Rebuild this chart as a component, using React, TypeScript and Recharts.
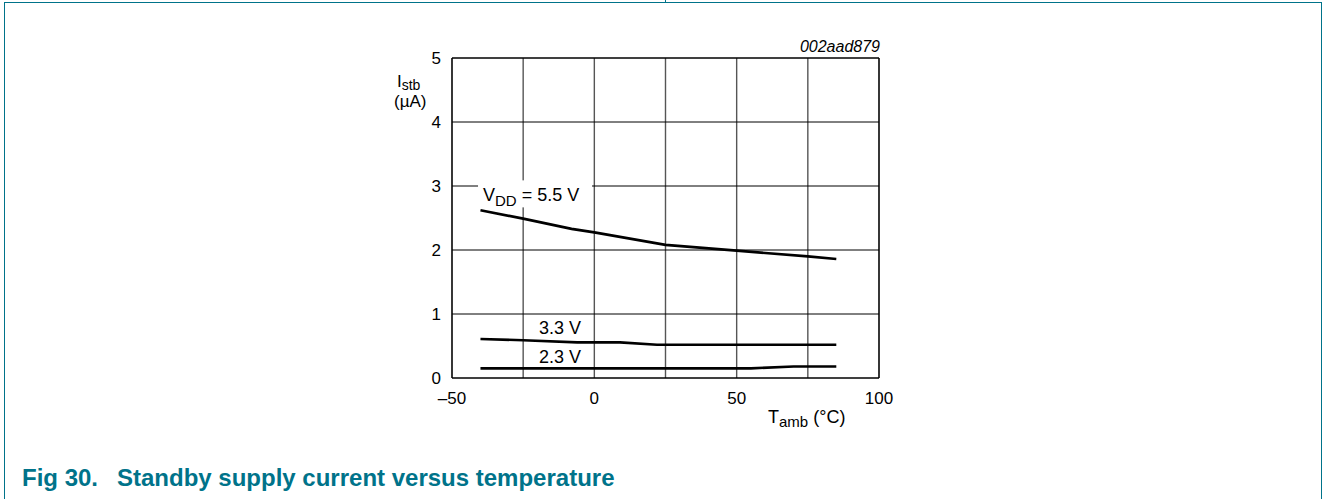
// Standby supply current versus ambient temperature (Fig 30)
import React from 'react';
import {
    LineChart,
    Line,
    XAxis,
    YAxis,
    CartesianGrid,
    ReferenceLine,
    ReferenceDot
} from 'recharts';

const tempTicks = [-50, -25, 0, 25, 50, 75, 100];
const tempTickLabels = ['\u201350', '', '0', '', '50', '', '100'];
const istbTicks = [0, 1, 2, 3, 4, 5];

// VDD = 5.5 V
const temp55 = [-40, -25, -8, 0, 25, 50, 75, 85];
const istb55 = [2.62, 2.49, 2.33, 2.275, 2.08, 1.99, 1.9, 1.86];
// 3.3 V
const temp33 = [-40, -25, -6, 9, 22, 85];
const istb33 = [0.61, 0.59, 0.556, 0.556, 0.52, 0.52];
// 2.3 V
const temp23 = [-40, 55, 70, 85];
const istb23 = [0.15, 0.15, 0.18, 0.18];

// where each curve name sits (temperature, current)
const tagNames = ['5.5 V', '3.3 V', '2.3 V'];
const tagTemps = [-39.1, -19.4, -19.4];
const tagIstb = [2.76, 0.69, 0.234];

const FONT = '"Liberation Sans", Arial, sans-serif';
const TEAL = '#00738a';

const zip = (t: number[], v: number[]) => t.map((x, i) => ({ t: x, i: v[i] }));

const VddTag = ({ cx, cy }: any) => (
    <g>
        <rect x={cx - 5} y={cy - 21} width={114} height={27} fill="#fff" />
        <text x={cx} y={cy} fontSize={18} fontFamily={FONT} fill="#000">
            V
            <tspan dy={4.3} fontSize={15}>DD</tspan>
            <tspan dy={-4.3}> = {tagNames[0]}</tspan>
        </text>
    </g>
);

const PlainTag = ({ cx, cy, text }: any) => (
    <text x={cx} y={cy} fontSize={18} fontFamily={FONT} fill="#000">
        {text}
    </text>
);

const IstbTitle = (props: any) => {
    const vb = props.viewBox;
    return (
        <g fontFamily={FONT} fill="#000">
            <text x={vb.x + 5} y={vb.y + 28.5} fontSize={17}>
                I<tspan dy={3} fontSize={14}>stb</tspan>
            </text>
            <text x={vb.x + 2} y={vb.y + 49} fontSize={17}>(µA)</text>
        </g>
    );
};

const TambTitle = (props: any) => {
    const vb = props.viewBox;
    return (
        <text x={vb.x + 316} y={vb.y + 45} fontSize={18} fontFamily={FONT} fill="#000">
            T<tspan dy={4} fontSize={15}>amb</tspan>
            <tspan dy={-4}> (°C)</tspan>
        </text>
    );
};

const captionStyle: React.CSSProperties = {
    position: 'absolute', top: 466, fontFamily: FONT, fontSize: 24,
    lineHeight: '24px', fontWeight: 'bold', color: TEAL, whiteSpace: 'nowrap'
};

const App = () => {
    const tick = { fill: '#000', fontSize: 17, fontFamily: FONT };
    return (
        <div style={{ position: 'absolute', left: 0, top: 0, width: 1328, height: 499, background: '#fff' }}>
            {/* page frame */}
            <div style={{ position: 'absolute', left: 4, top: 2, width: 1318, height: 0, borderTop: `1.5px solid ${TEAL}` }} />
            <div style={{ position: 'absolute', left: 4, top: 2, width: 0, height: 497, borderLeft: `1.5px solid ${TEAL}` }} />
            <div style={{ position: 'absolute', left: 1321, top: 2, width: 0, height: 497, borderLeft: `1.5px solid ${TEAL}` }} />
            <div style={{ position: 'absolute', left: 665, top: 0, width: 0, height: 3, borderLeft: `1.5px solid ${TEAL}` }} />

            <div style={{
                position: 'absolute', right: 1328 - 880, top: 39, fontFamily: FONT,
                fontSize: 16, lineHeight: '16px', fontStyle: 'italic', color: '#000'
            }}>
                002aad879
            </div>

            <LineChart
                width={1328}
                height={499}
                margin={{ top: 58, right: 449, bottom: 91, left: 392 }}
                style={{ position: 'absolute', left: 0, top: 0 }}
            >
                <CartesianGrid horizontal={false} stroke="#555" strokeWidth={1.4} />
                <CartesianGrid vertical={false} stroke="#000" strokeWidth={1} />

                <XAxis
                    type="number"
                    dataKey="t"
                    domain={[-50, 100]}
                    ticks={tempTicks}
                    tickFormatter={(v, idx) => tempTickLabels[idx] ?? String(v)}
                    tick={tick}
                    tickLine={false}
                    tickSize={0}
                    tickMargin={14}
                    axisLine={{ stroke: '#000', strokeWidth: 1.2 }}
                    height={30}
                    interval={0}
                    allowDataOverflow
                    label={TambTitle}
                />
                <YAxis
                    type="number"
                    domain={[0, 5]}
                    ticks={istbTicks}
                    tick={tick}
                    tickLine={false}
                    tickSize={0}
                    tickMargin={11}
                    axisLine={{ stroke: '#000', strokeWidth: 1.2 }}
                    width={60}
                    interval={0}
                    allowDataOverflow
                    label={IstbTitle}
                />

                <ReferenceLine x={100} stroke="#000" strokeWidth={1.2} />
                <ReferenceLine y={5} stroke="#000" strokeWidth={1.2} />

                <ReferenceDot
                    x={tagTemps[0]}
                    y={tagIstb[0]}
                    r={0}
                    ifOverflow="visible"
                    shape={(p: any) => <VddTag cx={p.cx} cy={p.cy} />}
                />
                <ReferenceDot
                    x={tagTemps[1]}
                    y={tagIstb[1]}
                    r={0}
                    ifOverflow="visible"
                    shape={(p: any) => <PlainTag cx={p.cx} cy={p.cy} text={tagNames[1]} />}
                />
                <ReferenceDot
                    x={tagTemps[2]}
                    y={tagIstb[2]}
                    r={0}
                    ifOverflow="visible"
                    shape={(p: any) => <PlainTag cx={p.cx} cy={p.cy} text={tagNames[2]} />}
                />

                <Line data={zip(temp55, istb55)} dataKey="i" type="linear" stroke="#000" strokeWidth={2.6} dot={false} isAnimationActive={false} />
                <Line data={zip(temp33, istb33)} dataKey="i" type="linear" stroke="#000" strokeWidth={2.6} dot={false} isAnimationActive={false} />
                <Line data={zip(temp23, istb23)} dataKey="i" type="linear" stroke="#000" strokeWidth={2.6} dot={false} isAnimationActive={false} />
            </LineChart>

            <div style={{ ...captionStyle, left: 22 }}>Fig 30.</div>
            <div style={{ ...captionStyle, left: 117 }}>Standby supply current versus temperature</div>
        </div>
    );
};

export default App;
